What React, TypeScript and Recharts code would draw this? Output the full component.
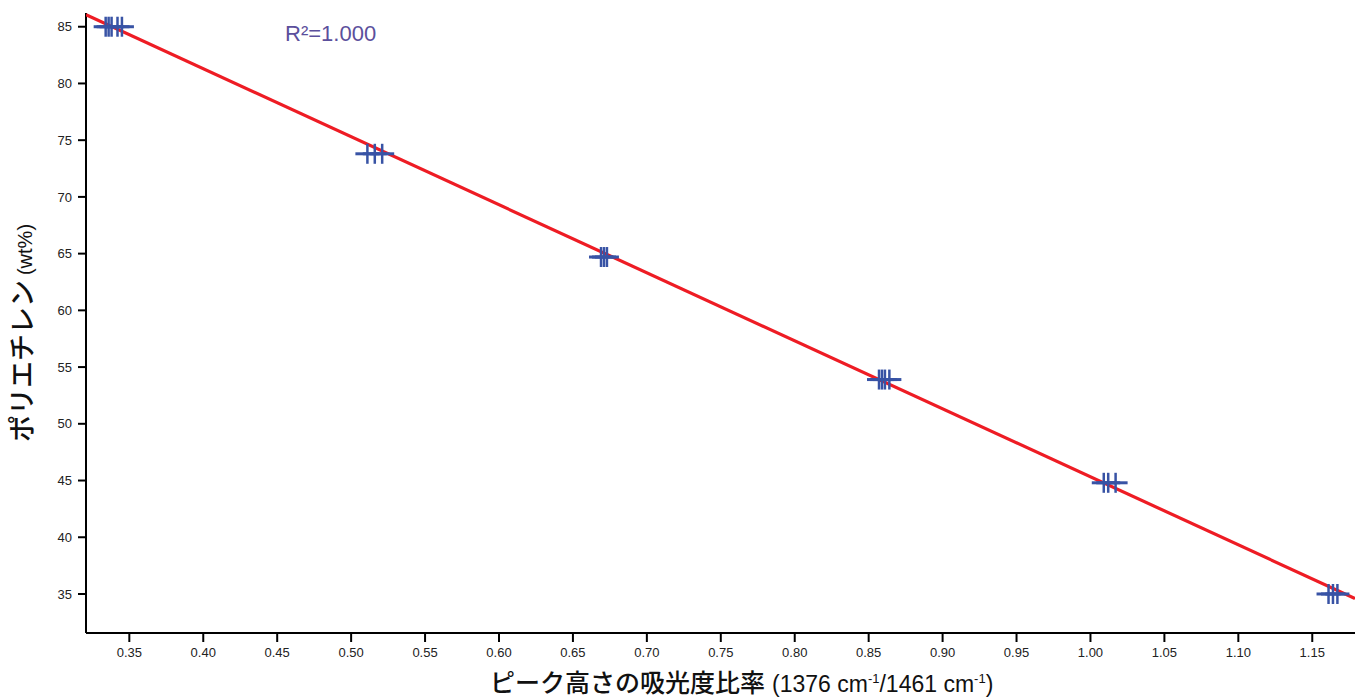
import { ScatterChart, Scatter, XAxis, YAxis, Label } from "recharts";

// measured replicates (peak height ratio 1376/1461 vs PE content)
const peakRatio = [
  0.334, 0.336, 0.338, 0.342, 0.345,
  0.511, 0.516, 0.521,
  0.669, 0.671, 0.673,
  0.857, 0.859, 0.861, 0.864,
  1.009, 1.012, 1.017,
  1.161, 1.164, 1.167,
];
const peContent = [
  85, 85, 85, 85, 85,
  73.8, 73.8, 73.8,
  64.7, 64.7, 64.7,
  53.9, 53.9, 53.9, 53.9,
  44.8, 44.8, 44.8,
  35.0, 35.0, 35.0,
];

// regression line end points
const fitRatio = [0.3207, 1.1789];
const fitContent = [86.05, 34.6];

const xTicks = [0.35, 0.4, 0.45, 0.5, 0.55, 0.6, 0.65, 0.7, 0.75, 0.8, 0.85, 0.9, 0.95, 1.0, 1.05, 1.1, 1.15];
const yTicks = [35, 40, 45, 50, 55, 60, 65, 70, 75, 80, 85];

const points = peakRatio.map((x, i) => ({ x, y: peContent[i] }));
const fit = fitRatio.map((x, i) => ({ x, y: fitContent[i] }));

const BLUE = "#3853a5";
const RED = "#ee1c24";
const LATIN = "'Liberation Sans', Arial, sans-serif";
const CJK = "'Noto Sans CJK JP', sans-serif";
const tickStyle = { fontSize: 13, fill: "#222", fontFamily: LATIN };

const PlusMark = (props: any) => {
  const { cx, cy } = props;
  if (cx == null || cy == null) return <g />;
  return (
    <g>
      <line x1={cx - 12} y1={cy} x2={cx + 12} y2={cy} stroke={BLUE} strokeWidth={3} />
      <line x1={cx} y1={cy - 10} x2={cx} y2={cy + 10} stroke={BLUE} strokeWidth={2.5} />
    </g>
  );
};

const XTitle = (props: any) => {
  const vb = props.viewBox;
  return (
    <text x={490} y={vb.y + 59} textAnchor="start" fill="#111">
      <tspan fontFamily={CJK} fontSize={25} fontWeight={500}>
        ピーク高さの吸光度比率
      </tspan>
      <tspan fontFamily={LATIN} fontSize={23} dx={7}>
        (1376 cm
      </tspan>
      <tspan fontFamily={LATIN} fontSize={13} dy={-9}>
        -1
      </tspan>
      <tspan fontFamily={LATIN} fontSize={23} dy={9}>
        /1461 cm
      </tspan>
      <tspan fontFamily={LATIN} fontSize={13} dy={-9}>
        -1
      </tspan>
      <tspan fontFamily={LATIN} fontSize={23} dy={9}>
        )
      </tspan>
    </text>
  );
};

const YTitle = (props: any) => {
  const vb = props.viewBox;
  const cx = 32;
  const cy = vb.y + vb.height / 2 + 10;
  return (
    <text x={cx} y={cy} transform={`rotate(-90, ${cx}, ${cy})`} textAnchor="middle" fill="#111">
      <tspan fontFamily={CJK} fontSize={27} fontWeight={500}>
        ポリエチレン
      </tspan>
      <tspan fontFamily={LATIN} fontSize={20} dx={5}>
        (wt%)
      </tspan>
    </text>
  );
};

export default function App() {
  return (
    <div style={{ position: "absolute", left: 0, top: 0, width: 1365, height: 700, background: "#fff" }}>
      <ScatterChart width={1365} height={700} margin={{ top: 13, right: 10, bottom: 0, left: 0 }}>
        <XAxis
          type="number"
          dataKey="x"
          domain={[0.3207, 1.1789]}
          allowDataOverflow
          ticks={xTicks}
          tickFormatter={(v: number) => v.toFixed(2)}
          height={67}
          tickSize={9}
          tickMargin={6}
          tick={tickStyle}
          axisLine={{ stroke: "#000", strokeWidth: 2 }}
          tickLine={{ stroke: "#000", strokeWidth: 2 }}
        >
          <Label content={<XTitle />} />
        </XAxis>
        <YAxis
          type="number"
          dataKey="y"
          domain={[31.56, 86.21]}
          allowDataOverflow
          ticks={yTicks}
          width={86}
          tickSize={8}
          tickMargin={6}
          tick={tickStyle}
          axisLine={{ stroke: "#000", strokeWidth: 2 }}
          tickLine={{ stroke: "#000", strokeWidth: 2 }}
        >
          <Label content={<YTitle />} />
        </YAxis>
        <Scatter
          data={fit}
          line={{ stroke: RED, strokeWidth: 3.2 }}
          shape={() => <g />}
          isAnimationActive={false}
        />
        <Scatter data={points} shape={<PlusMark />} isAnimationActive={false} />
      </ScatterChart>
      <div
        style={{
          position: "absolute",
          left: 285,
          top: 23,
          fontSize: 22,
          lineHeight: "22px",
          color: "#5b4f9c",
          fontFamily: LATIN,
        }}
      >
        R²=1.000
      </div>
    </div>
  );
}
